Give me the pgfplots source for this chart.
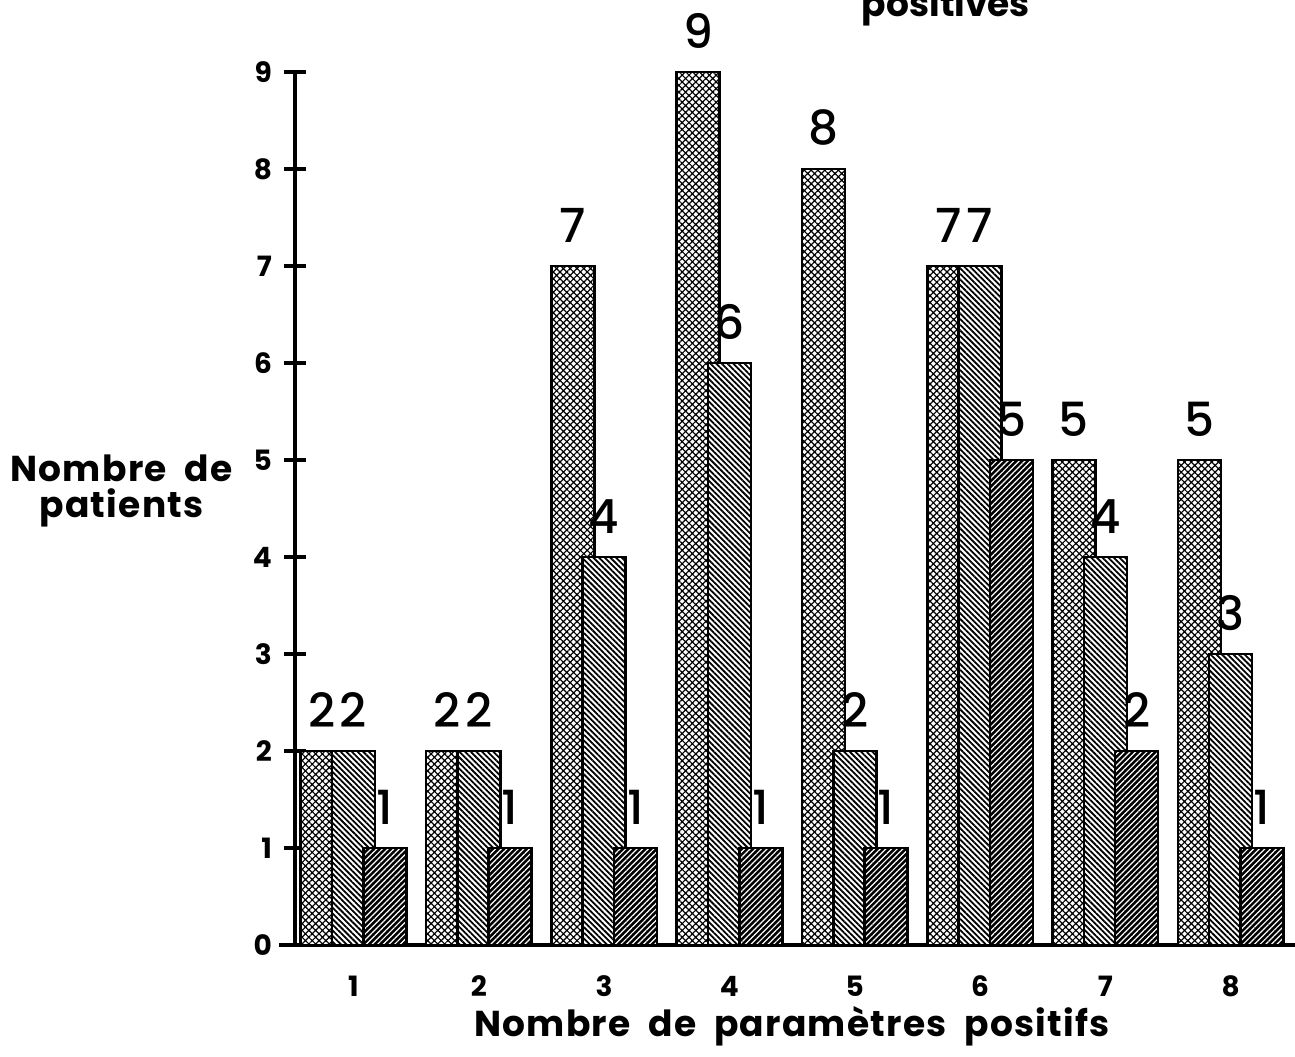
\documentclass[border=0pt]{standalone}
\usepackage{fontspec}
\setmainfont{Poppins}
\newfontfamily\valfont{Poppins Medium}
\newfontfamily\labfont{Poppins}[LetterSpace=3.5, WordSpace=2]
\usepackage{pgfplots}
\pgfplotsset{compat=1.18}
\usetikzlibrary{patterns.meta}

% groups: number of positive parameters; a, b, c: the three series
\pgfplotstableread{
x a b c
1 2 2 1
2 2 2 1
3 7 4 1
4 9 6 1
5 8 2 1
6 7 7 5
7 5 4 2
8 5 3 1
}\patients

\begin{document}
\begin{tikzpicture}
\begin{axis}[
    scale only axis,
    width=500pt, height=436.5pt,
    at={(0,0)}, anchor=south west,
    xmin=0.533, xmax=8.514,
    ymin=0, ymax=9,
    axis lines=left,
    axis line style={-, line width=2pt},
    x axis line style={shorten <=-8pt},
    xtick={1,...,8}, ytick={0,...,9},
    xtick style={draw=none},
    ytick style={line width=1.8pt, black},
    tick align=center,
    major tick length=11pt,
    tick label style={font=\fontsize{14}{16}\selectfont\bfseries},
    yticklabel style={xshift=-2.5pt},
    xticklabel style={yshift=-1pt},
    /pgf/number format/assume math mode=true,
    ybar, bar width=21.5pt,
    clip=false,
    nodes near coords,
    every node near coord/.append style={font=\valfont\fontsize{23.5}{28}\selectfont, black,
        anchor=south, inner sep=1pt, yshift=10pt},
    xlabel={Nombre de paramètres positifs},
    every axis x label/.style={at={(axis description cs:0.497,-0.105)}, anchor=base,
        font=\labfont\fontsize{18}{22}\selectfont\bfseries},
    ylabel={Nombre de\\patients},
    every axis y label/.style={at={(axis description cs:-0.062,0.52)}, anchor=east,
        inner sep=0pt, align=center,
        font=\labfont\fontsize{18}{18}\selectfont\bfseries},
]
\addplot[bar shift=-15.65pt, fill=white, draw=black, line width=1.3pt,
    postaction={pattern={Hatch[angle=45, distance=2.4pt, line width=0.6pt]}, draw=black, line width=1.3pt}]
    table[x=x, y=a]{\patients};
\addplot[bar shift=0pt, fill=white, draw=black, line width=1.3pt,
    postaction={pattern={Lines[angle=-45, distance=2pt, line width=0.9pt]}, draw=black, line width=1.3pt}]
    table[x=x, y=b]{\patients};
\addplot[bar shift=15.65pt, fill=black, draw=black, line width=1.3pt,
    postaction={pattern={Lines[angle=45, distance=2pt, line width=0.6pt]}, pattern color=white, draw=black, line width=1.3pt}]
    table[x=x, y=c]{\patients};
\end{axis}
\node[font=\fontsize{18}{22}\selectfont\bfseries, anchor=base] at (325.5pt,464pt) {positives};
\pgfresetboundingbox
\path[use as bounding box] (-147.5pt,-55.5pt) rectangle (500pt,472.5pt);
\end{tikzpicture}
\end{document}
